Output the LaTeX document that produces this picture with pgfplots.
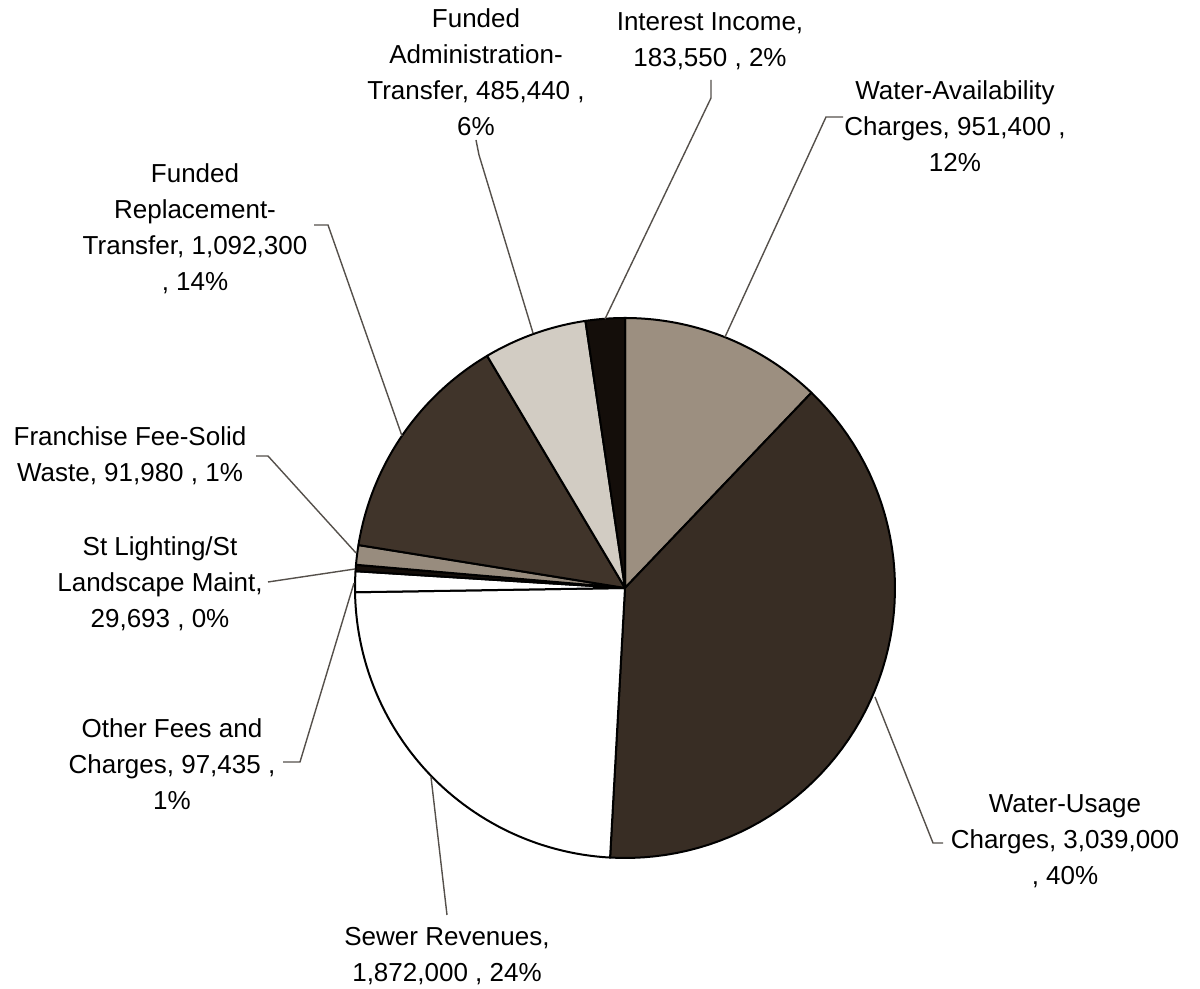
\documentclass[border=0pt]{standalone}
\usepackage{pgfplots}
\pgfplotsset{compat=1.18}
\usepackage{pgfplotstable}
\usepackage{fontspec}
\setmainfont{Liberation Sans}

\definecolor{cAvail}{RGB}{156,143,128}
\definecolor{cUsage}{RGB}{56,45,36}
\definecolor{cRepl}{RGB}{64,52,42}
\definecolor{cAdmin}{RGB}{210,204,195}
\definecolor{cFran}{RGB}{152,140,126}
\definecolor{cBlack}{RGB}{20,14,10}
\definecolor{leadgray}{RGB}{85,80,75}

% slices, clockwise from 12 o'clock
\pgfplotstableread{
name value col
Availability 951400 cAvail
Usage 3039000 cUsage
Sewer 1872000 white
Other 97435 white
Lighting 29693 cBlack
Franchise 91980 cFran
Replacement 1092300 cRepl
Admin 485440 cAdmin
Interest 183550 cBlack
}\piedata

\def\pietotal{0}
\pgfplotstableforeachcolumnelement{value}\of\piedata\as\v{\xdef\pietotal{\fpeval{\pietotal+\v}}}

\tikzset{
  lbl/.style={align=center, inner sep=0pt, font=\fontsize{13}{18}\selectfont},
  leader/.style={draw=leadgray, line width=0.7pt},
}

\begin{document}
\begin{tikzpicture}
\begin{axis}[
    hide axis,
    x=0.5pt, y=0.5pt,
    xmin=0, xmax=1200, ymin=0, ymax=989,
    clip=false,
]
\path (axis cs:0,0) rectangle (axis cs:1200,989);

\pgfplotsextra{
  \gdef\cum{0}
  \pgfplotstablegetrowsof{\piedata}
  \pgfmathtruncatemacro\lastrow{\pgfplotsretval-1}
  \foreach \i in {0,...,\lastrow}{
    \pgfplotstablegetelem{\i}{value}\of\piedata \let\v\pgfplotsretval
    \pgfplotstablegetelem{\i}{col}\of\piedata \let\slicecol\pgfplotsretval
    \edef\a{\fpeval{round(90-360*\cum/\pietotal,4)}}
    \xdef\cum{\fpeval{\cum+\v}}
    \edef\b{\fpeval{round(90-360*\cum/\pietotal,4)}}
    \fill[fill=\slicecol, draw=black, line width=1pt, line join=round]
      (axis cs:625,401) -- plot[domain=\a:\b, samples=60, variable=\t]
      (axis cs:{625+270*cos(\t)},{401+270*sin(\t)}) -- cycle;
  }
}

% leader lines
\draw[leader] (axis cs:476,849) -- (axis cs:479,834) -- (axis cs:533,656);
\draw[leader] (axis cs:711,909) -- (axis cs:711,891) -- (axis cs:605,670);
\draw[leader] (axis cs:843,872) -- (axis cs:826,872) -- (axis cs:725,652);
\draw[leader] (axis cs:943,146) -- (axis cs:933,146) -- (axis cs:875,292);
\draw[leader] (axis cs:447,74) -- (axis cs:431,212);
\draw[leader] (axis cs:283,227) -- (axis cs:300,227) -- (axis cs:354,406);
\draw[leader] (axis cs:268,407) -- (axis cs:355,420);
\draw[leader] (axis cs:256,533) -- (axis cs:268,533) -- (axis cs:356,436);
\draw[leader] (axis cs:314,764) -- (axis cs:328,764) -- (axis cs:402,553);

% labels
\node[lbl] at (axis cs:476,917) {Funded\\Administration-\\Transfer, 485,440 ,\\6\%};
\node[lbl] at (axis cs:710,948) {Interest Income,\\183,550 , 2\%};
\node[lbl] at (axis cs:955,863) {Water-Availability\\Charges, 951,400 ,\\12\%};
\node[lbl] at (axis cs:1065,148) {Water-Usage\\Charges, 3,039,000\\, 40\%};
\node[lbl] at (axis cs:447,33) {Sewer Revenues,\\1,872,000 , 24\%};
\node[lbl] at (axis cs:172,225) {Other Fees and\\Charges, 97,435 ,\\1\%};
\node[lbl] at (axis cs:160,405) {St Lighting/St\\Landscape Maint,\\29,693 , 0\%};
\node[lbl] at (axis cs:130,533) {Franchise Fee-Solid\\Waste, 91,980 , 1\%};
\node[lbl] at (axis cs:195,760) {Funded\\Replacement-\\Transfer, 1,092,300\\, 14\%};
\end{axis}
\end{tikzpicture}
\end{document}
